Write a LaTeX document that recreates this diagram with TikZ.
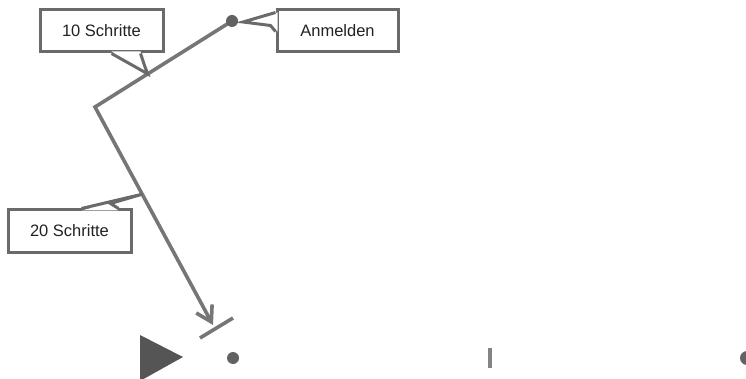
\documentclass[tikz,border=0pt]{standalone}
\usepackage{fontspec}
\setmainfont{Liberation Sans}
\usetikzlibrary{arrows.meta,calc}
\definecolor{linegray}{HTML}{767676}
\definecolor{boxgray}{HTML}{6A6A6A}
\definecolor{dotgray}{HTML}{626262}
\definecolor{trigray}{HTML}{555555}
\definecolor{txt}{HTML}{222222}
\tikzset{
  conn/.style={draw=linegray, line width=3.6pt, line join=miter},
  callbox/.style={draw=boxgray, line width=3pt, fill=white, text=txt,
    font=\fontsize{16.5}{19}\selectfont, minimum height=42pt, inner sep=0pt},
  callline/.style={draw=boxgray, line width=3pt, line join=miter},
  dotmark/.style={circle, fill=dotgray, inner sep=0pt, minimum size=12pt},
}
\begin{document}
\begin{tikzpicture}[x=1pt,y=-1pt]
\useasboundingbox (0,0) rectangle (746,379);

% path coordinates
\coordinate (start) at (232,21);
\coordinate (corner) at (95,107);
\coordinate (end) at (213,325);
\coordinate (bar1) at (200,338);
\coordinate (bar2) at (233,318);

% main path
\draw[conn, -{Straight Barb[length=15pt,width=18pt,line width=3.6pt]}] (start) -- (corner) -- (end);
\draw[conn] (bar1) -- (bar2);
\node[dotmark] (sdot) at (start) {};

% callouts
\node[callbox, minimum width=123pt] (t10) at (101.5,31) {10 Schritte};
\node[callbox, minimum width=121pt] (anm) at (337.5,31) {Anmelden};
\node[callbox, minimum width=123pt] (t20) at (69.5,231) {20 Schritte};

\coordinate (p10) at ($(start)!0.615!(corner)$);
\coordinate (p20) at ($(corner)!0.40!(end)$);
\coordinate (panm) at (243,22);

% pointer of 10 Schritte
\fill[white] ($(t10.south west)+(73,-2)$) -- (p10) -- ($(t10.south west)+(106,12)$) -- ($(t10.south west)+(102,-2)$) -- cycle;
\draw[callline] ($(t10.south west)+(73,0)$) -- (p10) -- ($(t10.south west)+(106,12)$) -- ($(t10.south west)+(102,0)$);

% pointer of Anmelden
\fill[white] ($(anm.north west)+(2,4)$) -- (panm) -- ($(anm.north west)+(-5,17)$) -- ($(anm.north west)+(2,23)$) -- cycle;
\draw[callline] ($(anm.north west)+(0,4)$) -- (panm) -- ($(anm.north west)+(-5,17)$) -- ($(anm.north west)+(0,23)$);

% pointer of 20 Schritte
\fill[white] ($(t20.north west)+(75,2)$) -- (p20) -- ($(t20.north west)+(104,-5)$) -- ($(t20.north west)+(112,2)$) -- cycle;
\draw[callline] ($(t20.north west)+(75,0)$) -- (p20) -- ($(t20.north west)+(104,-5)$) -- ($(t20.north west)+(112,0)$);

% bottom symbols
\fill[trigray] (140,335) -- (183,357) -- (140,381) -- cycle;
\node[dotmark] (bdot) at (233,358) {};
\draw[draw=linegray!90, line width=4pt] (490,348) -- (490,368);
\node[dotmark, minimum size=14pt] (rdot) at (747,358) {};
\end{tikzpicture}
\end{document}
